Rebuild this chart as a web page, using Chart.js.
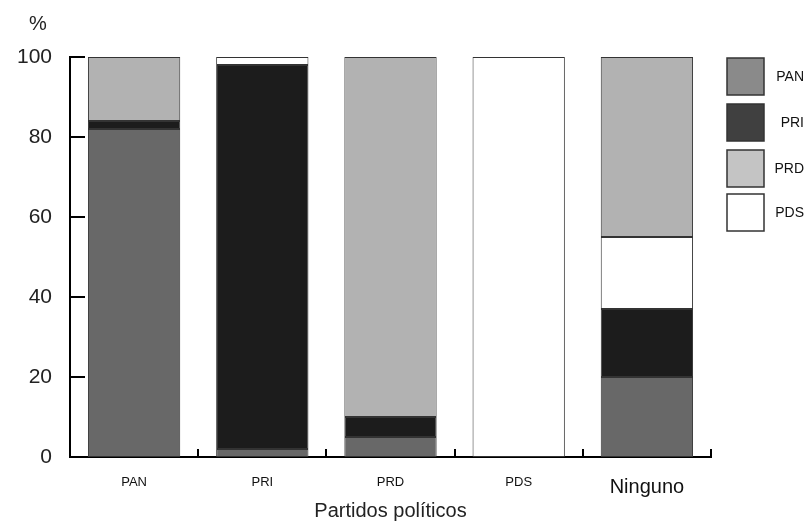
<!DOCTYPE html>
<html>
<head>
<meta charset="utf-8">
<script src="https://cdn.jsdelivr.net/npm/chart.js@4"></script>
<style>
  html, body { margin: 0; padding: 0; background: #fff; }
  #wrap { width: 807px; height: 525px; }
</style>
</head>
<body>
<div id="wrap"><canvas id="chart" width="807" height="525"></canvas></div>
<script>
// categorias (partido de preferencia)
const partidos = ['PAN', 'PRI', 'PRD', 'PDS', 'Ninguno'];
const yTicks = [0, 20, 40, 60, 80, 100];

// porcentajes por segmento, en orden de apilado
const panValues = [82, 2, 5, 0, 20];
const priValues = [2, 96, 5, 0, 17];
const pdsValues = [0, 2, 0, 100, 18];
const prdValues = [16, 0, 90, 0, 45];

// leyenda (orden y tonos de la figura original)
const legendLabels = ['PAN', 'PRI', 'PRD', 'PDS'];
const legendColors = ['#8a8a8a', '#404040', '#c4c4c4', '#ffffff'];

const narrow = '"Liberation Sans Narrow", "Arial Narrow", "Liberation Sans", Arial, sans-serif';
const sans = '"Liberation Sans", Arial, sans-serif';

// ticks hacia adentro, "%" y leyenda
const extras = {
    id: 'extras',
    afterDraw(chart) {
        const ctx = chart.ctx;
        const x = chart.scales.x, y = chart.scales.y;
        const area = chart.chartArea;
        ctx.save();
        ctx.strokeStyle = '#000';
        ctx.lineWidth = 2;
        yTicks.forEach(v => {
            const py = Math.round(y.getPixelForValue(v));
            ctx.beginPath();
            ctx.moveTo(area.left, py);
            ctx.lineTo(area.left + 15, py);
            ctx.stroke();
        });
        const step = (area.right - area.left) / partidos.length;
        for (let i = 1; i <= partidos.length; i++) {
            const px = Math.round(area.left + step * i);
            ctx.beginPath();
            ctx.moveTo(px, area.bottom);
            ctx.lineTo(px, area.bottom - 8);
            ctx.stroke();
        }

        ctx.fillStyle = '#222';
        ctx.font = '20px ' + sans;
        ctx.textAlign = 'center';
        ctx.textBaseline = 'middle';
        ctx.fillText('%', 38, 24);

        ctx.lineWidth = 1.5;
        ctx.strokeStyle = '#333';
        const boxTops = [58, 104, 150, 194];
        legendLabels.forEach((lab, i) => {
            ctx.fillStyle = legendColors[i];
            ctx.fillRect(727, boxTops[i], 37, 37);
            ctx.strokeRect(727, boxTops[i], 37, 37);
            ctx.fillStyle = '#111';
            ctx.font = '14px ' + narrow;
            ctx.textAlign = 'right';
            ctx.fillText(lab, 804, boxTops[i] + 19);
        });
        ctx.restore();
    }
};

const ds = (label, data, color) => ({
    label: label,
    data: data,
    backgroundColor: color,
    borderColor: '#333',
    borderWidth: 1,
    borderSkipped: false,
    barPercentage: 0.72,
    categoryPercentage: 1
});

new Chart(document.getElementById('chart').getContext('2d'), {
    type: 'bar',
    data: {
        labels: partidos,
        datasets: [
            ds('PAN', panValues, '#686868'),
            ds('PRI', priValues, '#1c1c1c'),
            ds('PDS', pdsValues, '#ffffff'),
            ds('PRD', prdValues, '#b2b2b2')
        ]
    },
    options: {
        responsive: false,
        animation: false,
        layout: { padding: { top: 57, right: 96, left: 0, bottom: 0 } },
        scales: {
            x: {
                stacked: true,
                grid: { display: false, drawTicks: false },
                border: { display: true, color: '#000', width: 2 },
                afterFit: s => { s.height = 68; },
                ticks: {
                    color: '#111',
                    padding: 18,
                    font: c => c.index === 4
                        ? { size: 20, family: sans }
                        : { size: 13, family: narrow }
                },
                title: {
                    display: true,
                    text: 'Partidos políticos',
                    color: '#222',
                    font: { size: 20, family: sans },
                    padding: { top: 0, bottom: 2 }
                }
            },
            y: {
                stacked: true,
                min: 0,
                max: 100,
                grid: { display: false, drawTicks: false },
                border: { display: true, color: '#000', width: 2 },
                afterFit: s => { s.width = 70; },
                ticks: {
                    stepSize: 20,
                    color: '#222',
                    padding: 18,
                    font: { size: 21, family: sans }
                }
            }
        },
        plugins: {
            legend: { display: false },
            tooltip: { enabled: false }
        }
    },
    plugins: [extras]
});
</script>
</body>
</html>
